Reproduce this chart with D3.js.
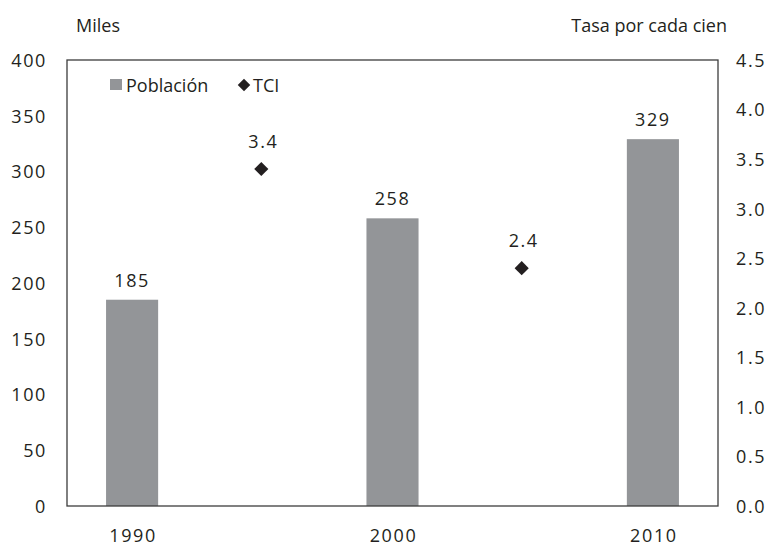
<!DOCTYPE html>
<html>
<head>
<meta charset="utf-8">
<script src="https://cdn.jsdelivr.net/npm/d3@7"></script>
<style>
  body { margin: 0; background: #fff; }
  text { font-family: "Open Sans", sans-serif; fill: #231f20; font-weight: 500; }
  .num { letter-spacing: 1.6px; }
</style>
</head>
<body>
<svg id="chart" width="768" height="546"></svg>
<script>
"use strict";

// data
var slots = ["1990", "1995", "2000", "2005", "2010"];
var barYears = ["1990", "2000", "2010"];
var poblacion = [185, 258, 329];
var tciYears = ["1995", "2005"];
var tci = [3.4, 2.4];
var leftTicks = [0, 50, 100, 150, 200, 250, 300, 350, 400];
var rightTicks = [0, 0.5, 1, 1.5, 2, 2.5, 3, 3.5, 4, 4.5];

var margin = { top: 60, right: 50, bottom: 40, left: 67 };
var width = 768 - margin.left - margin.right;
var height = 506 - margin.top;

var svg = d3.select("#chart");
var g = svg.append("g").attr("transform", "translate(" + margin.left + "," + margin.top + ")");

var x = d3.scaleBand().domain(slots).range([0, width]).paddingInner(0).paddingOuter(0);
var y = d3.scaleLinear().domain([0, 400]).range([height, 0]);
var y2 = d3.scaleLinear().domain([0, 4.5]).range([height, 0]);
var barW = x.bandwidth() * 0.4;

// bars
var barData = barYears.map(function(d, i) { return { year: d, v: poblacion[i] }; });
g.selectAll("rect.bar")
  .data(barData)
  .enter().append("rect")
  .attr("class", "bar")
  .attr("x", function(d) { return x(d.year) + (x.bandwidth() - barW) / 2; })
  .attr("y", function(d) { return y(d.v); })
  .attr("width", barW)
  .attr("height", function(d) { return height - y(d.v); })
  .attr("fill", "#939598");

g.selectAll("text.barlbl")
  .data(barData)
  .enter().append("text")
  .attr("class", "num")
  .attr("x", function(d) { return x(d.year) + x.bandwidth() / 2; })
  .attr("y", function(d) { return y(d.v) - 13; })
  .attr("text-anchor", "middle")
  .attr("font-size", 18)
  .text(function(d) { return d.v; });

// TCI diamonds (rotated squares)
var square = d3.symbol().type(d3.symbolSquare).size(100);
var tciData = tciYears.map(function(d, i) { return { year: d, v: tci[i] }; });
g.selectAll("path.tci")
  .data(tciData)
  .enter().append("path")
  .attr("d", square)
  .attr("transform", function(d) {
    return "translate(" + (x(d.year) + x.bandwidth() / 2 - 1) + "," + y2(d.v) + ") rotate(45)";
  })
  .attr("fill", "#231f20");

g.selectAll("text.tcilbl")
  .data(tciData)
  .enter().append("text")
  .attr("class", "num")
  .attr("x", function(d) { return x(d.year) + x.bandwidth() / 2 + 1; })
  .attr("y", function(d) { return y2(d.v) - 21; })
  .attr("text-anchor", "middle")
  .attr("font-size", 18)
  .text(function(d) { return d3.format(".1f")(d.v); });

// frame
g.append("rect")
  .attr("x", 0).attr("y", 0)
  .attr("width", width).attr("height", height)
  .attr("fill", "none")
  .attr("stroke", "#3c3c3c")
  .attr("stroke-width", 1.3);

// left axis labels
g.selectAll("text.yl")
  .data(leftTicks)
  .enter().append("text")
  .attr("class", "num")
  .attr("x", -20)
  .attr("y", function(d) { return y(d); })
  .attr("dy", "0.38em")
  .attr("text-anchor", "end")
  .attr("font-size", 18)
  .text(function(d) { return d; });

// right axis labels
g.selectAll("text.yr")
  .data(rightTicks)
  .enter().append("text")
  .attr("class", "num")
  .attr("x", width + 18)
  .attr("y", function(d) { return y2(d); })
  .attr("dy", "0.38em")
  .attr("font-size", 18)
  .text(function(d) { return d3.format(".1f")(d); });

// x labels
g.selectAll("text.xl")
  .data(barYears)
  .enter().append("text")
  .attr("class", "num")
  .attr("x", function(d) { return x(d) + x.bandwidth() / 2 + 1; })
  .attr("y", height + 36)
  .attr("text-anchor", "middle")
  .attr("font-size", 18)
  .text(function(d) { return d; });

// axis titles
svg.append("text").attr("x", 76).attr("y", 32).attr("font-size", 18).attr("font-weight", 600).text("Miles");
svg.append("text").attr("x", 727).attr("y", 32).attr("text-anchor", "end").attr("font-size", 18).text("Tasa por cada cien");

// legend
var leg = g.append("g").attr("transform", "translate(43,19)");
leg.append("rect").attr("x", 0).attr("y", 0).attr("width", 12).attr("height", 11).attr("fill", "#939598");
leg.append("text").attr("x", 16).attr("y", 12.5).attr("font-size", 18).text("Población");
leg.append("path").attr("d", d3.symbol().type(d3.symbolSquare).size(78))
  .attr("transform", "translate(134,6) rotate(45)").attr("fill", "#231f20");
leg.append("text").attr("x", 143).attr("y", 12.5).attr("font-size", 18).text("TCI");
</script>
</body>
</html>
